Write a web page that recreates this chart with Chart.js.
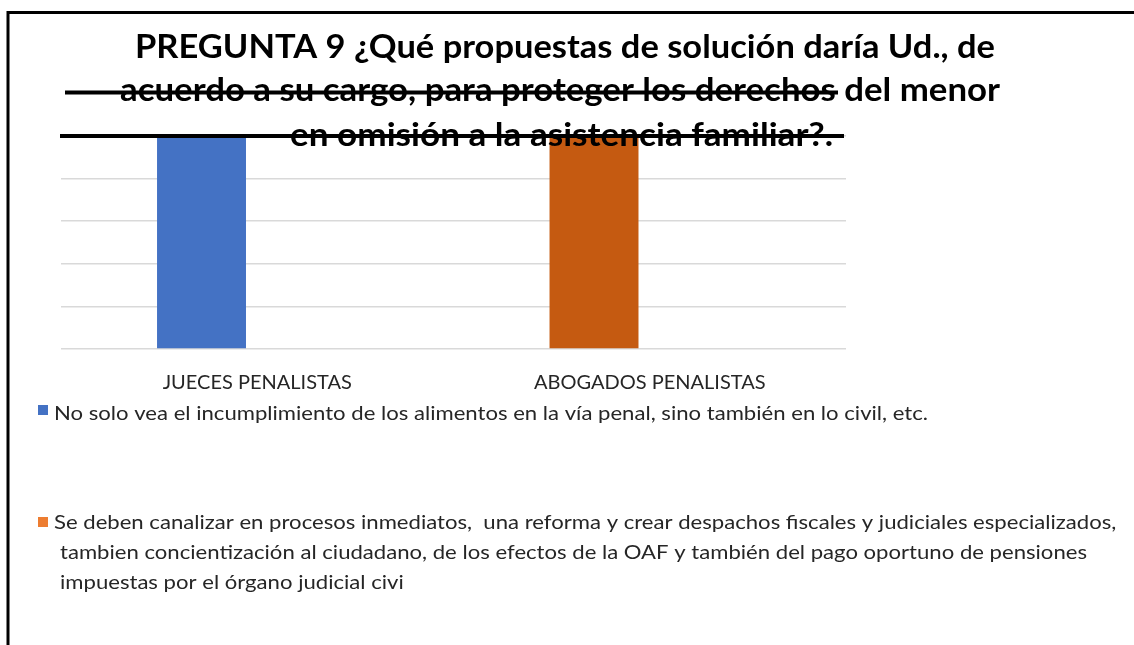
<!DOCTYPE html>
<html>
<head>
<meta charset="utf-8">
<script src="https://cdn.jsdelivr.net/npm/chart.js@4.4.1/dist/chart.umd.min.js"></script>
<style>
  html, body { margin: 0; padding: 0; background: #fff; }
  #wrap { width: 1134px; height: 645px; position: relative; }
</style>
</head>
<body>
<div id="wrap"><canvas id="chart" width="1134" height="645"></canvas></div>
<script>
// datos
const categories = ['JUECES PENALISTAS', 'ABOGADOS PENALISTAS'];
const titleLines = [
    'PREGUNTA 9 ¿Qué propuestas de solución daría Ud., de',
    'acuerdo a su cargo, para proteger los derechos del menor',
    'en omisión a la asistencia familiar?.'
];
const serie1Label = ['No solo vea el incumplimiento de los alimentos en la vía penal, sino también en lo civil, etc.'];
const serie2Label = [
    'Se deben canalizar en procesos inmediatos,  una reforma y crear despachos fiscales y judiciales especializados,',
    'tambien concientización al ciudadano, de los efectos de la OAF y también del pago oportuno de pensiones',
    'impuestas por el órgano judicial civi'
];
const serie1Values = [1, null];
const serie2Values = [null, 1];

// texto con escala horizontal
function scaledText(ctx, text, x, y, s) {
    ctx.save();
    ctx.translate(x, y);
    ctx.scale(s, 1);
    ctx.textAlign = 'left';
    ctx.fillText(text, 0, 0);
    ctx.restore();
}

// titulo, lineas tachadas, leyenda y marco
const decoPlugin = {
    id: 'deco',
    afterDraw(chart) {
        const ctx = chart.ctx;
        ctx.save();

        // titulo
        ctx.fillStyle = '#000';
        ctx.font = 'bold 32px Lato';
        ctx.textBaseline = 'alphabetic';
        const tPos = [[135, 995, 58], [120, 1000, 101], [290, 833, 146]];
        titleLines.forEach((t, i) => {
            const s = (tPos[i][1] - tPos[i][0]) / ctx.measureText(t).width;
            scaledText(ctx, t, tPos[i][0], tPos[i][2], s);
        });

        // lineas negras
        ctx.strokeStyle = '#000';
        ctx.lineWidth = 4;
        ctx.beginPath();
        ctx.moveTo(65, 92.5); ctx.lineTo(838, 92.5);
        ctx.moveTo(60, 136); ctx.lineTo(844, 136);
        ctx.stroke();

        // leyenda
        const colors = ['#4472C4', '#ED7D31'];
        const items = [
            { sq: 405, lines: [[54, 420]] },
            { sq: 517, lines: [[54, 529], [60, 559], [60, 589]] }
        ];
        ctx.font = '19px Lato';
        const ls = 874 / ctx.measureText(serie1Label[0]).width;
        items.forEach((it, i) => {
            ctx.fillStyle = colors[i];
            ctx.fillRect(38, it.sq, 10, 10);
            ctx.fillStyle = '#262626';
            const lbl = chart.data.datasets[i].label;
            it.lines.forEach((l, j) => scaledText(ctx, lbl[j], l[0], l[1], ls));
        });

        // marco
        ctx.strokeStyle = '#000';
        ctx.lineWidth = 3;
        ctx.beginPath();
        ctx.moveTo(8, 645);
        ctx.lineTo(8, 12.5);
        ctx.lineTo(1134, 12.5);
        ctx.stroke();

        ctx.restore();
    }
};

new Chart(document.getElementById('chart'), {
    type: 'bar',
    data: {
        labels: categories,
        datasets: [{
            label: serie1Label,
            data: serie1Values,
            backgroundColor: '#4472C4',
            stack: 'a'
        }, {
            label: serie2Label,
            data: serie2Values,
            backgroundColor: '#C55A11',
            stack: 'a'
        }, {
            // hueco vacio de la segunda columna
            label: '',
            data: [null, null],
            stack: 'b'
        }]
    },
    options: {
        responsive: false,
        animation: false,
        categoryPercentage: 0.568,
        barPercentage: 0.798,
        layout: { padding: { left: 61, right: 288, top: 136, bottom: 0 } },
        plugins: {
            legend: { display: false },
            title: { display: false },
            tooltip: { enabled: false }
        },
        scales: {
            x: {
                grid: { display: false, drawTicks: false },
                border: { display: false },
                ticks: {
                    font: { family: 'Lato', size: 20 },
                    color: '#262626',
                    padding: 22,
                    maxRotation: 0
                },
                afterFit: function(s) { s.height = 645 - 349; }
            },
            y: {
                min: 0,
                max: 1,
                ticks: { display: false, stepSize: 0.2 },
                grid: { color: '#d9d9d9', lineWidth: 1.5, drawTicks: false },
                border: { display: false },
                afterFit: function(s) { s.width = 0; }
            }
        }
    },
    plugins: [decoPlugin]
});
</script>
</body>
</html>
